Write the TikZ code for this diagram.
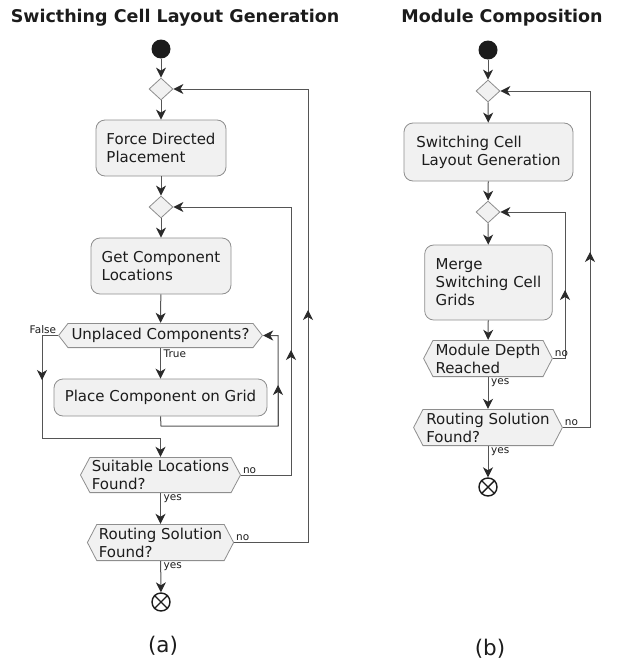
\documentclass[tikz,border=0pt]{standalone}
\usepackage{fontspec}
\setmainfont{DejaVu Sans}
\usetikzlibrary{arrows.meta,shapes.geometric,calc}
\definecolor{actfill}{HTML}{F1F1F1}
\definecolor{actborder}{HTML}{8E8E8E}
\definecolor{flowline}{HTML}{555555}
\definecolor{tipink}{HTML}{2A2A2A}
\definecolor{ink}{HTML}{1C1C1C}

\begin{document}
\begin{tikzpicture}[x=1pt,y=-1pt,
  font=\fontsize{15}{18}\selectfont,
  every node/.style={text=ink},
  % rounded activity box
  actbox/.style={draw=actborder, fill=actfill, line width=0.8pt,
    rounded corners=9pt, align=left, inner ysep=0pt},
  % merge / branch diamond
  mergept/.style={shape=diamond, draw=actborder, fill=actfill, line width=0.8pt,
    minimum width=24pt, minimum height=22pt, inner sep=0pt},
  % decision hexagon, drawn inside the node's rectangle
  decision/.style={align=left, inner xsep=12pt, inner ysep=0pt, fill=white,
    path picture={
      \filldraw[draw=actborder, fill=actfill, line width=0.8pt]
        ([xshift=0.6pt]path picture bounding box.west)
        -- ([xshift=10pt,yshift=-0.4pt]path picture bounding box.north west)
        -- ([xshift=-10pt,yshift=-0.4pt]path picture bounding box.north east)
        -- ([xshift=-0.6pt]path picture bounding box.east)
        -- ([xshift=-10pt,yshift=0.4pt]path picture bounding box.south east)
        -- ([xshift=10pt,yshift=0.4pt]path picture bounding box.south west)
        -- cycle;}},
  startpt/.style={circle, fill=ink, minimum size=19pt, inner sep=0pt},
  endpt/.style={circle, draw=ink, fill=white, line width=1.4pt,
    minimum size=18pt, inner sep=0pt},
  flow/.style={draw=flowline, line width=1pt,
    -{Stealth[length=10pt,width=10pt,inset=3pt,color=tipink]}},
  lbl/.style={font=\fontsize{10.5}{12}\selectfont, inner sep=1.5pt},
  heading/.style={font=\fontsize{17.5}{20}\selectfont\bfseries},
  caption/.style={font=\fontsize{21.5}{24}\selectfont},
]
\useasboundingbox (0,0) rectangle (616,664);

% ---------------- (a) switching cell layout generation ----------------
\node[heading] (ta) at (175,18) {Swicthing Cell Layout Generation};

\node[startpt] (a0) at (161,49) {};
\node[mergept] (ad1) at (161,89) {};
\node[actbox, inner xsep=10pt, minimum width=130pt, minimum height=56pt] (afdp) at (161,148) {Force Directed\\Placement};
\node[mergept] (ad2) at (161,207) {};
\node[actbox, inner xsep=10pt, minimum width=140pt, minimum height=56pt] (agcl) at (161,266) {Get Component\\Locations};
\node[decision, minimum width=205pt, minimum height=25pt] (aup) at (160.5,335.5) {Unplaced Components?};
\node[actbox, inner xsep=10pt, minimum width=213pt, minimum height=37pt] (apl) at (160.5,397.5) {Place Component on Grid};
\node[decision, minimum width=159pt, minimum height=36pt] (asl) at (160.5,475) {Suitable Locations\\Found?};
\node[decision, minimum width=147pt, minimum height=37pt] (art) at (160.5,542.5) {Routing Solution\\Found?};
\node[endpt] (aend) at (161,602) {};
\draw[ink, line width=1.4pt] (aend.45) -- (aend.225) (aend.135) -- (aend.315);

\node[caption] (ca) at (163,646) {(a)};

% corner points of the loops
\coordinate (aplA) at (161,426);
\coordinate (aplB) at (278,426);
\coordinate (aplM) at (278,385);
\coordinate (afA) at (42,438);
\coordinate (afM) at (42,380);
\coordinate (anA) at (291,207);
\coordinate (anM) at (291,350);
\coordinate (arA) at (308,89);
\coordinate (arM) at (308,310);

\draw[flow] (a0) -- (ad1);
\draw[flow] (ad1) -- (afdp);
\draw[flow] (afdp) -- (ad2);
\draw[flow] (ad2) -- (agcl);
\draw[flow] (agcl) -- (aup);
\draw[flow] (aup) -- (apl);
\node[lbl, anchor=north west, xshift=1.5pt] at (aup.south) {True};

% place component, back to the check
\draw[flow] (apl.south) -- (aplA) -- (aplB) -- (aplB |- aup.east) -- (aup.east);
\draw[flow] (aplB) -- (aplM);

% no unplaced components left
\draw[flow] (aup.west) -- (aup.west -| afA) -- (afA) -- (afA -| asl.north) -- (asl.north);
\draw[flow] (aup.west -| afA) -- (afM);
\node[lbl, anchor=south east] at (aup.west) {False};

% suitable locations
\draw[flow] (asl) -- (art);
\node[lbl, anchor=north west, xshift=1.5pt] at (asl.south) {yes};
\draw[flow] (asl.east) -- (asl.east -| anA) -- (anA) -- (ad2.east);
\draw[flow] (asl.east -| anA) -- (anM);
\node[lbl, anchor=south west] at (asl.east) {no};

% routing solution
\draw[flow] (art) -- (aend);
\node[lbl, anchor=north west, xshift=1.5pt] at (art.south) {yes};
\draw[flow] (art.east) -- (art.east -| arA) -- (arA) -- (ad1.east);
\draw[flow] (art.east -| arA) -- (arM);
\node[lbl, anchor=south west] at (art.east) {no};

% ---------------- (b) module composition ----------------
\node[heading] (tb) at (502,18) {Module Composition};

\node[startpt] (b0) at (488,50) {};
\node[mergept] (bd1) at (488,91) {};
\node[actbox, inner xsep=10pt, minimum width=169pt, minimum height=58pt] (bscl) at (488.5,152) {Switching Cell\\\hspace*{5pt}Layout Generation};
\node[mergept] (bd2) at (488,212) {};
\node[actbox, inner xsep=11pt, minimum width=125pt, minimum height=75pt] (bmg) at (488.5,282.5) {Merge\\Switching Cell\\Grids};
\node[decision, minimum width=130pt, minimum height=37pt] (bdp) at (488,358.5) {Module Depth\\Reached};
\node[decision, minimum width=150pt, minimum height=37pt] (brt) at (488,427.5) {Routing Solution\\Found?};
\node[endpt] (bend) at (488,487) {};
\draw[ink, line width=1.4pt] (bend.45) -- (bend.225) (bend.135) -- (bend.315);

\node[caption] (cb) at (490,649) {(b)};

\coordinate (bnA) at (565,212);
\coordinate (bnM) at (565,290);
\coordinate (brA) at (590,91);
\coordinate (brM) at (590,252);

\draw[flow] (b0) -- (bd1);
\draw[flow] (bd1) -- (bscl);
\draw[flow] (bscl) -- (bd2);
\draw[flow] (bd2) -- (bmg);
\draw[flow] (bmg) -- (bdp);

\draw[flow] (bdp) -- (brt);
\node[lbl, anchor=north west, xshift=1.5pt] at (bdp.south) {yes};
\draw[flow] (bdp.east) -- (bdp.east -| bnA) -- (bnA) -- (bd2.east);
\draw[flow] (bdp.east -| bnA) -- (bnM);
\node[lbl, anchor=south west] at (bdp.east) {no};

\draw[flow] (brt) -- (bend);
\node[lbl, anchor=north west, xshift=1.5pt] at (brt.south) {yes};
\draw[flow] (brt.east) -- (brt.east -| brA) -- (brA) -- (bd1.east);
\draw[flow] (brt.east -| brA) -- (brM);
\node[lbl, anchor=south west] at (brt.east) {no};
\end{tikzpicture}
\end{document}
